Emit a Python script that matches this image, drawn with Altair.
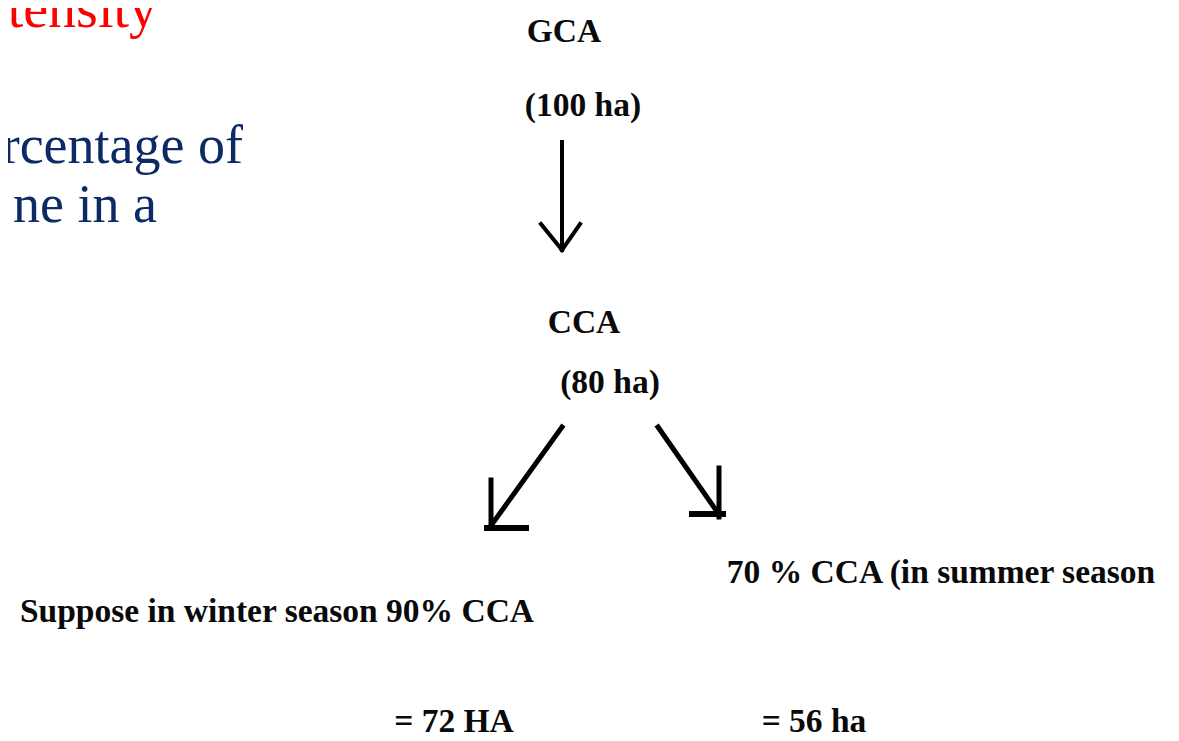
import altair as alt
import pandas as pd

# ---- text content (cropped slide) ----
side_labels = ["tensity", "rcentage of", "ne in a"]
side_colors = ["#FF0000", "#0B2A66", "#0B2A66"]
side_sizes = [56, 54, 54]
side_x = [157, 243, 157]      # right edge (screen px)
side_y = [27, 163, 222]       # baseline (screen px)

node_labels = ["GCA", "(100 ha)", "CCA", "(80 ha)",
               "Suppose in winter season 90% CCA",
               "70 % CCA (in summer season",
               "= 72 HA", "= 56 ha"]
node_x = [564, 583, 584, 610, 277, 941, 454, 814]
node_y = [42, 116, 333, 393, 622, 583, 732, 732]

# ---- arrows: segments ----
seg_x1 = [562, 541, 580, 562, 491, 487, 658, 719, 692]
seg_y1 = [142, 224, 224, 427, 480, 528, 427, 468, 514]
seg_x2 = [562, 562, 562, 490, 491, 526, 718, 719, 723]
seg_y2 = [250, 250, 250, 527, 528, 528, 513, 517, 514]
seg_w = [4, 4, 4, 5, 5, 6, 5, 5, 6]

side_df = pd.DataFrame({"label": side_labels, "color": side_colors,
                        "size": side_sizes, "x": side_x, "y": side_y})
node_df = pd.DataFrame({"label": node_labels, "x": node_x, "y": node_y})
seg_df = pd.DataFrame({"x": seg_x1, "y": seg_y1, "x2": seg_x2,
                       "y2": seg_y2, "w": seg_w})

W, H = 1163, 725
xs = alt.Scale(domain=[8, 8 + W], range=[0, W])
ys = alt.Scale(domain=[8, 8 + H], range=[0, H])

X = lambda f: alt.X(f, type="quantitative", scale=xs, axis=None)
Y = lambda f: alt.Y(f, type="quantitative", scale=ys, axis=None)

side = alt.Chart(side_df).mark_text(
    align="right", baseline="alphabetic", font="Liberation Serif"
).encode(
    x=X("x"), y=Y("y"), text="label:N",
    color=alt.Color("color:N", scale=None),
    size=alt.Size("size:Q", scale=None),
)

nodes = alt.Chart(node_df).mark_text(
    align="center", baseline="alphabetic", font="Liberation Serif",
    fontWeight="bold", fontSize=33.5, color="#0A0A0A"
).encode(x=X("x"), y=Y("y"), text="label:N")

arrows = alt.Chart(seg_df).mark_rule(color="#000000", strokeCap="square").encode(
    x=X("x"), y=Y("y"), x2="x2:Q", y2="y2:Q",
    strokeWidth=alt.StrokeWidth("w:Q", scale=None),
)

chart = alt.layer(side, arrows, nodes).properties(
    width=W, height=H, padding=0,
    autosize=alt.AutoSizeParams(type="none"),
    background="white",
).configure_view(stroke=None)

chart.save("out.html", embed_options={"renderer": "svg", "actions": False})
